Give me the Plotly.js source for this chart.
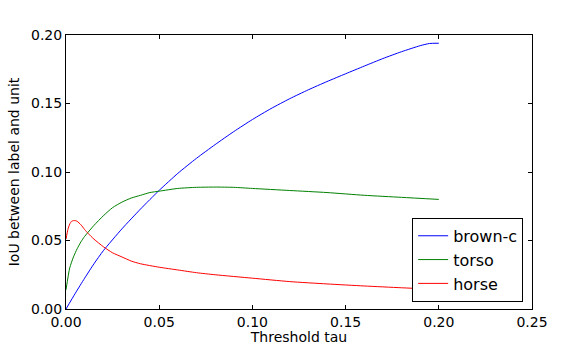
<!DOCTYPE html>
<html>
<head>
<meta charset="utf-8">
<script src="https://cdn.plot.ly/plotly-3.0.1.min.js"></script>
<style>
  html, body { margin: 0; padding: 0; background: #fff; }
  #plot { width: 574px; height: 345px; }
</style>
</head>
<body>
<div id="plot"></div>
<script>
// brown-c
var brownX = [0, 0.005, 0.01, 0.015, 0.02, 0.03, 0.04, 0.05, 0.06, 0.07, 0.08, 0.09, 0.10,
  0.11, 0.12, 0.13, 0.14, 0.15, 0.16, 0.17, 0.18, 0.19, 0.195, 0.20];
var brownY = [0, 0.0115, 0.0225, 0.033, 0.0425, 0.0585, 0.073, 0.0866, 0.0990, 0.1100, 0.1200, 0.1295, 0.1383,
  0.1463, 0.1535, 0.1600, 0.1660, 0.1717, 0.1773, 0.1828, 0.1878, 0.1922, 0.1938, 0.194];

// torso
var torsoX = [0, 0.002, 0.004, 0.006, 0.008, 0.01, 0.015, 0.02, 0.025, 0.03, 0.035, 0.04, 0.045,
  0.05, 0.06, 0.07, 0.08, 0.09, 0.10, 0.12, 0.14, 0.16, 0.18, 0.20];
var torsoY = [0.014, 0.030, 0.038, 0.044, 0.049, 0.053, 0.061, 0.068, 0.074, 0.078, 0.081, 0.083, 0.085,
  0.086, 0.088, 0.0888, 0.089, 0.0888, 0.088, 0.0865, 0.085, 0.083, 0.0815, 0.080];

// horse
var horseX = [0, 0.001, 0.002, 0.003, 0.004, 0.005, 0.006, 0.008, 0.01, 0.012, 0.015, 0.02, 0.025,
  0.03, 0.035, 0.04, 0.05, 0.06, 0.07, 0.08, 0.10, 0.12, 0.14, 0.16, 0.18, 0.20];
var horseY = [0.051, 0.058, 0.062, 0.064, 0.0645, 0.0645, 0.064, 0.0615, 0.058, 0.055, 0.051, 0.0455, 0.041,
  0.038, 0.035, 0.033, 0.0305, 0.0285, 0.0265, 0.025, 0.0225, 0.0200, 0.0183, 0.0168, 0.0155, 0.0143];

var xTicks = [0, 0.05, 0.10, 0.15, 0.20, 0.25];
var xTickText = ["0.00", "0.05", "0.10", "0.15", "0.20", "0.25"];
var yTicks = [0, 0.05, 0.10, 0.15, 0.20];
var yTickText = ["0.00", "0.05", "0.10", "0.15", "0.20"];

var data = [
  { x: brownX, y: brownY, name: "brown-c", type: "scatter", mode: "lines",
    line: { color: "#0000ff", width: 1, shape: "spline", smoothing: 0.6 } },
  { x: torsoX, y: torsoY, name: "torso", type: "scatter", mode: "lines",
    line: { color: "#008000", width: 1, shape: "spline", smoothing: 0.6 } },
  { x: horseX, y: horseY, name: "horse", type: "scatter", mode: "lines",
    line: { color: "#ff0000", width: 1, shape: "spline", smoothing: 0.6 } }
];

var axisCommon = {
  showgrid: false,
  zeroline: false,
  showline: true,
  linecolor: "#000",
  linewidth: 1,
  mirror: "ticks",
  ticks: "inside",
  ticklen: 4,
  tickcolor: "#000",
  tickfont: { family: "DejaVu Sans", size: 14, color: "#000" }
};

var layout = {
  width: 574,
  height: 345,
  margin: { l: 66, r: 42, t: 35, b: 36 },
  paper_bgcolor: "#fff",
  plot_bgcolor: "#fff",
  font: { family: "DejaVu Sans", color: "#000" },
  xaxis: Object.assign({}, axisCommon, {
    range: [0, 0.25],
    tickvals: xTicks, ticktext: xTickText,
    title: { text: "Threshold tau", font: { size: 14 }, standoff: 8 }
  }),
  yaxis: Object.assign({}, axisCommon, {
    range: [0, 0.20],
    tickvals: yTicks, ticktext: yTickText,
    title: { text: "IoU between label and unit", font: { size: 14 }, standoff: 8 }
  }),
  legend: {
    x: 0.981, xanchor: "right",
    y: 0.026, yanchor: "bottom",
    bordercolor: "#000", borderwidth: 1,
    bgcolor: "#fff",
    font: { size: 16 },
    itemwidth: 30,
    tracegroupgap: 0
  },
  showlegend: true
};

Plotly.newPlot("plot", data, layout, { displayModeBar: false, staticPlot: true });
</script>
</body>
</html>
